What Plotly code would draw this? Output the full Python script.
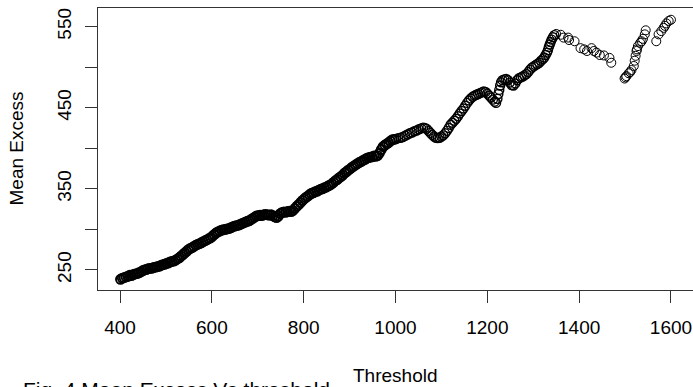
import plotly.graph_objects as go

# Mean residual life: threshold u vs. mean excess e(u)
threshold = [
    401, 405, 409, 413, 417, 421, 425, 429, 433, 437, 441, 445, 449, 453, 457,
    461, 465, 469, 473, 477, 481, 485, 489, 493, 497, 501, 505, 509, 513, 517,
    521, 525, 529, 533, 537, 541, 545, 549, 553, 557, 561, 565, 569, 573, 577,
    581, 585, 589, 593, 597, 601, 605, 609, 613, 617, 621, 625, 629, 633, 637,
    641, 645, 649, 653, 657, 661, 665, 669, 673, 677, 681, 685, 689, 693, 697,
    701, 705, 709, 713, 717, 721, 725, 729, 733, 737, 741, 745, 749, 753, 757,
    761, 765, 769, 773, 777, 781, 785, 789, 793, 797, 801, 805, 809, 813, 817,
    821, 825, 829, 833, 837, 841, 845, 849, 853, 857, 861, 865, 869, 873, 877,
    881, 885, 889, 893, 897, 901, 905, 909, 913, 917, 921, 925, 929, 933, 937,
    941, 945, 949, 953, 957, 961, 965, 969, 973, 977, 981, 985, 989, 993, 997,
    1001, 1006, 1011, 1016, 1021, 1026, 1031, 1036, 1041, 1046, 1051, 1056, 1060,
    1064, 1068, 1072, 1076, 1080, 1084, 1088, 1092, 1096, 1100, 1104, 1108, 1112,
    1116, 1120, 1124, 1128, 1132, 1136, 1140, 1144, 1148, 1152, 1156, 1160, 1164,
    1168, 1172, 1176, 1180, 1184, 1188, 1192, 1196, 1200, 1204, 1208, 1212, 1216,
    1219, 1222, 1224, 1226, 1228, 1230, 1233, 1237, 1241, 1245, 1249, 1253, 1257,
    1261, 1265, 1269, 1273, 1277, 1281, 1285, 1289, 1293, 1297, 1301, 1305, 1309,
    1313, 1317, 1321, 1324, 1327, 1330, 1332, 1334, 1336, 1338, 1340, 1343, 1346,
    1350, 1360, 1366, 1376, 1378, 1390, 1403, 1411, 1417, 1427, 1432, 1438, 1445,
    1454, 1466, 1470,
    1499, 1501, 1503, 1508, 1511, 1514, 1519, 1521, 1523, 1525, 1526, 1528, 1533,
    1536, 1539, 1543, 1545,
    1568, 1573, 1579, 1584, 1587, 1590, 1595, 1600,
]

mean_excess = [
    238.5, 240.0, 240.5, 241.5, 242.0, 243.5, 243.0, 244.5, 245.0, 245.5, 246.5,
    247.5, 249.0, 250.0, 250.5, 251.5, 252.0, 252.0, 253.0, 253.5, 254.0, 254.5,
    255.5, 256.5, 257.0, 258.0, 258.5, 260.0, 260.5, 261.0, 262.0, 263.5, 265.0,
    267.0, 269.0, 271.0, 273.0, 275.0, 276.5, 277.5, 279.0, 280.5, 281.5, 282.5,
    283.5, 285.0, 286.0, 287.0, 288.5, 289.5, 291.5, 293.5, 295.5, 297.0, 298.0,
    299.0, 299.5, 300.0, 300.5, 301.0, 302.0, 303.0, 304.0, 304.5, 305.0, 306.0,
    307.0, 308.0, 309.0, 310.0, 310.5, 312.0, 313.5, 315.0, 316.5,
    317.0, 317.5, 317.0, 318.0, 318.5, 318.0, 317.5, 318.0, 317.0, 315.5, 314.5,
    316.5, 319.5, 321.0, 321.5, 321.0, 322.0, 322.5, 322.0, 323.5, 326.0, 328.5,
    330.5, 333.0, 335.5, 337.5, 339.5, 341.0, 343.0, 344.5, 345.0, 346.5, 347.0,
    348.5, 349.5, 350.0, 351.5, 352.0, 353.5, 354.5, 356.0, 358.0, 360.0, 361.5,
    363.5, 365.0, 367.0, 369.5, 371.0, 373.0, 374.5, 376.5, 378.0, 379.5, 381.0,
    382.5, 383.5, 385.0, 386.0, 387.5, 388.5, 389.0, 389.5, 390.5, 390.0, 391.0,
    394.0, 398.5, 402.0, 404.0, 405.5, 407.0, 409.0, 410.5, 411.0,
    411.5, 412.5, 413.0, 414.0, 415.5, 417.0, 418.5, 419.5, 421.0, 422.0, 423.5,
    424.5, 425.5, 425.0, 424.0, 421.5, 419.0, 416.5, 414.5, 413.0, 412.5, 413.0,
    414.5, 416.0, 418.5, 421.5, 425.0, 429.0, 431.5, 434.0, 436.5, 439.5, 443.0,
    446.0, 449.0, 452.5, 456.0, 459.0, 461.5, 463.5, 465.0, 466.0, 467.0, 468.0,
    469.0, 470.0, 469.5, 467.5, 465.0, 462.5, 460.0, 457.5, 456.0, 461.0, 467.0,
    472.0, 477.5, 481.5, 484.0, 485.0, 485.5, 484.0, 481.0, 478.0, 477.5, 480.0,
    484.0, 486.5, 487.5, 488.5, 490.0, 491.5, 494.0, 497.0, 499.5, 501.0, 502.5,
    504.0, 505.5, 508.0, 510.0, 512.0, 515.0, 518.0, 521.0, 525.0, 528.0, 531.0,
    534.0, 537.0, 539.5,
    541.0, 540.0, 536.5, 536.5, 533.5, 532.0, 523.5, 522.0, 520.0, 523.5, 520.0,
    518.0, 515.0, 514.5, 511.5, 505.5,
    486.0, 487.5, 489.0, 492.5, 494.0, 496.5, 501.5, 508.0, 514.0, 520.0, 522.0,
    526.0, 530.0, 532.0, 535.0, 540.5, 545.5,
    532.0, 540.5, 544.5, 548.5, 551.0, 554.0, 557.0, 558.5,
]

x_ticks = [400, 600, 800, 1000, 1200, 1400, 1600]
y_ticks = [250, 300, 350, 400, 450, 500, 550]
y_tick_text = ["250", "", "350", "", "450", "", "550"]

FONT = "Liberation Sans, Arial, sans-serif"
AXIS_COLOR = "#333333"

# Low thresholds hold many more exceedances, so the circles there pile up
# into a solid band; draw the crowded stretches with a heavier outline.
bands = [
    (0, 1000, 1.9),
    (1000, 1347, 1.4),
    (1347, 10000, 1.0),
]

fig = go.Figure()
for lo, hi, lw in bands:
    idx = [i for i, u in enumerate(threshold) if lo <= u < hi]
    fig.add_trace(
        go.Scatter(
            x=[threshold[i] for i in idx],
            y=[mean_excess[i] for i in idx],
            mode="markers",
            marker=dict(
                symbol="circle-open",
                size=9,
                color="black",
                line=dict(width=lw, color="black"),
            ),
            hoverinfo="x+y",
        )
    )

fig.update_layout(
    width=693,
    height=387,
    margin=dict(l=98, r=0, t=8, b=97),
    paper_bgcolor="white",
    plot_bgcolor="white",
    showlegend=False,
    font=dict(family=FONT, size=19, color="black"),
    xaxis=dict(
        range=[352, 1648],
        tickvals=x_ticks,
        ticktext=[str(v) for v in x_ticks],
        ticks="outside",
        ticklen=12,
        tickwidth=1,
        tickcolor=AXIS_COLOR,
        showline=True,
        linecolor=AXIS_COLOR,
        linewidth=1,
        mirror=True,
        showgrid=False,
        zeroline=False,
        tickfont=dict(family=FONT, size=19, color="black"),
        ticklabelstandoff=8,
    ),
    yaxis=dict(
        range=[225.3, 573],
        tickvals=y_ticks,
        ticktext=y_tick_text,
        tickangle=-90,
        ticks="outside",
        ticklen=12,
        tickwidth=1,
        tickcolor=AXIS_COLOR,
        showline=True,
        linecolor=AXIS_COLOR,
        linewidth=1,
        mirror=True,
        showgrid=False,
        zeroline=False,
        tickfont=dict(family=FONT, size=19, color="black"),
        ticklabelstandoff=6,
    ),
)

# Axis titles and figure caption placed in paper coordinates
plot_h = 387 - 8 - 97
plot_w = 693 - 98


def py(px):
    return (387 - 97 - px) / plot_h


def px_x(px):
    return (px - 98) / plot_w


fig.add_annotation(
    text="Threshold", x=px_x(395), y=py(375), xref="paper", yref="paper",
    xanchor="center", yanchor="middle", showarrow=False,
    font=dict(family=FONT, size=19, color="black"),
)
fig.add_annotation(
    text="Mean Excess", x=px_x(15.5), y=py(149), xref="paper", yref="paper",
    xanchor="center", yanchor="middle", textangle=-90, showarrow=False,
    font=dict(family=FONT, size=19, color="black"),
)
fig.add_annotation(
    text="Fig. 4 Mean Excess Vs threshold", x=px_x(21), y=py(376),
    xref="paper", yref="paper", xanchor="left", yanchor="top",
    showarrow=False, font=dict(family=FONT, size=21, color="black"),
)

fig.write_html("out.html")
